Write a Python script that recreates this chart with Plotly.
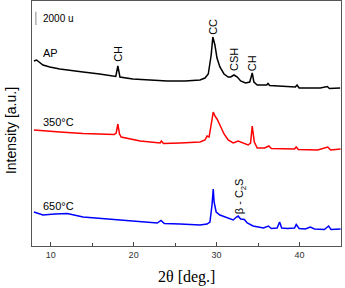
import plotly.graph_objects as go

# 2-theta positions (deg) and stacked intensities (a.u.)
ap_2theta = [7.98, 8.3, 9.07, 9.9, 11.1, 12.3, 13.9, 15.9, 17.5, 17.85, 18.1, 18.35, 19.9, 22.0, 24.05,
             26.2, 28.0, 28.6, 29.0, 29.35, 29.55, 29.8, 30.05, 30.4, 30.9, 31.4, 31.7, 32.1, 32.5, 32.9,
             33.5, 34.0, 34.2, 34.3, 34.5, 34.9, 36.05, 36.2, 36.4, 37.7, 39.5, 39.7, 39.95, 42.5, 43.35,
             43.6, 44.9]
ap_int = [27750, 27900, 27150, 26850, 26550, 26400, 26100, 25800, 25500, 25425, 27000, 25350, 25050, 24900, 24750,
          24750, 24900, 25200, 25800, 28650, 31350, 30150, 28200, 26850, 25800, 25350, 25350, 25650, 25350, 24750,
          24450, 24600, 25650, 25950, 24600, 24150, 24150, 24375, 24075, 24000, 23850, 24150, 23700, 23700, 23925,
          23625, 23700]

t350_2theta = [7.98, 9.3, 11.1, 13.9, 15.95, 17.65, 17.9, 18.1, 18.3, 18.5, 20.8, 23.2, 23.35, 23.6, 25.6,
               28.0, 28.6, 28.85, 29.1, 29.35, 29.6, 29.8, 30.05, 30.4, 30.9, 31.4, 32.0, 32.6, 33.1, 33.8,
               34.1, 34.3, 34.55, 34.9, 35.8, 36.3, 36.6, 38.1, 39.4, 39.6, 39.85, 42.2, 43.4, 43.75, 44.95]
t350_int = [17400, 17250, 17100, 16875, 16800, 16725, 16950, 18300, 16800, 16350, 15750, 15450, 15750, 15375, 15450,
            15600, 15900, 16500, 16350, 18600, 20100, 19500, 19050, 18150, 16800, 15900, 15450, 15750, 15450, 15150,
            15450, 18000, 15600, 14700, 14700, 15000, 14625, 14550, 14550, 14850, 14475, 14400, 14850, 14400, 14550]

t650_2theta = [7.98, 9.07, 10.5, 12.0, 13.9, 15.95, 18.0, 20.8, 22.85, 23.3, 23.7, 25.6, 28.0, 28.85, 29.2,
               29.45, 29.6, 29.7, 29.95, 30.4, 31.3, 32.0, 32.4, 32.6, 32.9, 33.35, 33.7, 34.4, 35.65, 36.25,
               36.6, 37.3, 37.6, 37.85, 38.55, 39.4, 39.6, 39.95, 40.7, 41.3, 41.8, 43.0, 43.5, 43.8, 44.95]
t650_int = [5100, 4650, 4800, 4875, 4350, 4125, 3900, 3600, 3450, 3825, 3375, 3300, 3150, 3300, 3600,
            6150, 8550, 6600, 5100, 4650, 4200, 3900, 4350, 4500, 4050, 3975, 3450, 3000, 2700, 3000,
            2625, 2700, 3600, 2700, 2625, 2700, 3225, 2625, 2550, 2850, 2550, 2475, 3000, 2475, 2550]

sample_labels = ["AP", "350°C", "650°C"]
label_int = [28950, 18600, 6000]

peak_labels = ["CH", "CC", "CSH", "CH", "β - C<sub>2</sub>S"]
peak_2theta = [18.1, 29.55, 32.1, 34.3, 32.85]
peak_label_int = [28800, 32850, 28050, 27450, 7500]

scale_bar = [33150, 35150]

x_ticks = [10, 20, 30, 40]

fig = go.Figure()
for xs, ys, col in [(ap_2theta, ap_int, "#000000"),
                    (t350_2theta, t350_int, "#ff0000"),
                    (t650_2theta, t650_int, "#0000ff")]:
    fig.add_trace(go.Scatter(x=xs, y=ys, mode="lines", line=dict(color=col, width=1.5),
                             showlegend=False, hoverinfo="skip"))

font = "Liberation Sans, Arial, sans-serif"
for txt, yv in zip(sample_labels, label_int):
    fig.add_annotation(x=8.8, y=yv, text=txt, showarrow=False, xanchor="left", yanchor="middle",
                       font=dict(family=font, size=11, color="#000"))
for txt, xv, yv in zip(peak_labels, peak_2theta, peak_label_int):
    fig.add_annotation(x=xv, y=yv, text=txt, showarrow=False, textangle=-90, xanchor="center",
                       yanchor="middle", font=dict(family=font, size=11, color="#000"))

fig.add_shape(type="line", x0=8.22, x1=8.22, y0=scale_bar[0], y1=scale_bar[1],
              line=dict(color="#888", width=1))
fig.add_annotation(x=8.8, y=(scale_bar[0] + scale_bar[1]) / 2, text="2000 u", showarrow=False,
                   xanchor="left", yanchor="middle", font=dict(family=font, size=10, color="#000"))

fig.add_annotation(x=0, y=0.469, xref="paper", yref="paper", xshift=-21, text="Intensity [a.u.]",
                   textangle=-90, showarrow=False, xanchor="center", yanchor="middle",
                   font=dict(family=font, size=14, color="#000"))
fig.add_annotation(x=0.5, y=0, xref="paper", yref="paper", yshift=-31, text="2θ [deg.]",
                   showarrow=False, xanchor="center", yanchor="middle",
                   font=dict(family="Liberation Serif, Times New Roman, serif", size=16, color="#000"))

fig.update_xaxes(range=[7.75, 45.0], tickvals=x_ticks, ticks="inside", ticklen=4, tickcolor="#444",
                 showline=True, linecolor="#555", linewidth=1, mirror=True, showgrid=False, zeroline=False,
                 tickfont=dict(family=font, size=9, color="#333"),
                 minor=dict(dtick=5, tick0=0, ticks="inside", ticklen=3, tickcolor="#444"))
fig.update_yaxes(range=[0, 36750], showticklabels=False, ticks="", showline=True, linecolor="#555",
                 linewidth=1, mirror=True, showgrid=False, zeroline=False)
fig.update_layout(width=345, height=288, margin=dict(l=32, r=4, t=1, b=42),
                  plot_bgcolor="white", paper_bgcolor="white")
fig.write_html("out.html", config={"displayModeBar": False},
               post_script="document.body.style.margin='0';document.body.style.padding='0';"
                           "document.documentElement.style.overflow='hidden';")
